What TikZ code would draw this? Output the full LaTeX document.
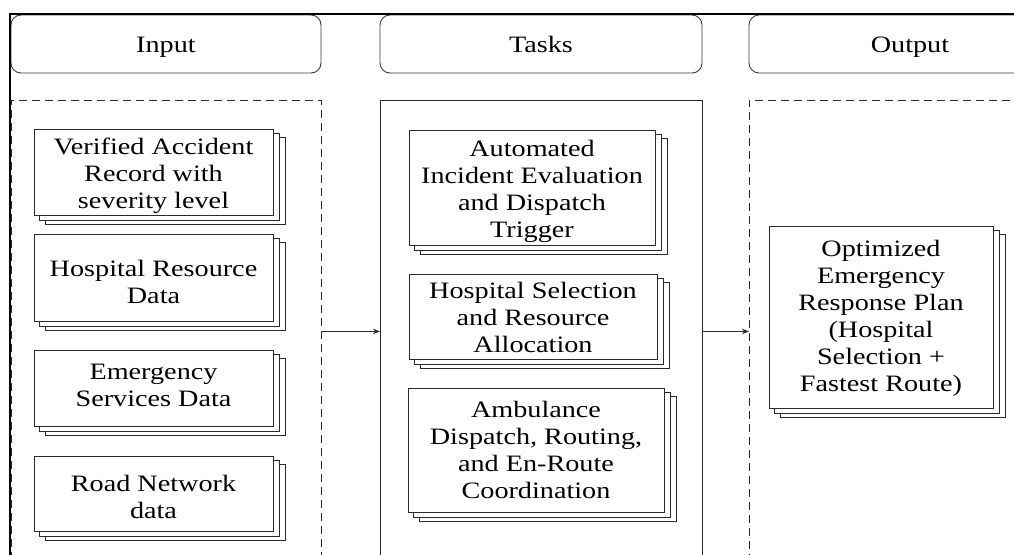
\documentclass[tikz,border=0pt]{standalone}
\usepackage{fontspec}
\setmainfont[FakeStretch=1.2]{Liberation Serif}
\usetikzlibrary{arrows.meta,backgrounds}
\definecolor{boxline}{HTML}{2A2A2A}
\definecolor{hdrline}{HTML}{3C3C3C}
\newcommand{\boxfont}{\fontsize{23.5}{27}\selectfont}
\newcommand{\dtext}[2][4pt]{\raisebox{-#1}[\height][\depth]{\begin{tabular}{@{}c@{}}#2\end{tabular}}}
\tikzset{
  hdr/.style={draw=hdrline, line width=0.9pt, rounded corners=10pt, minimum height=58pt, inner sep=0pt, text height=21pt, text depth=5pt, font=\boxfont},
  region/.style={draw=boxline, line width=0.9pt, inner sep=0pt, minimum height=462pt},
  dashedregion/.style={region, dash pattern=on 8pt off 5pt},
  doc/.style={draw=boxline, fill=white, line width=0.85pt, inner sep=0pt, align=center, font=\boxfont},
  layer/.style={draw=boxline, fill=white, line width=0.85pt},
  arr/.style={draw=boxline, line width=0.9pt, -{Stealth[length=7pt,width=5.5pt]}},
  frameline/.style={draw=black, line width=2pt}
}
\begin{document}
\begin{tikzpicture}[x=1pt,y=-1pt]
\useasboundingbox (0,0) rectangle (1014,554);
\clip (0,0) rectangle (1014,554);

% headers
\node[hdr, minimum width=310pt] (hin) at (166,44) {Input};
\node[hdr, minimum width=322pt] (htask) at (541,44) {Tasks};
\node[hdr, minimum width=322pt] (hout) at (910,44) {Output};

% regions
\node[dashedregion, minimum width=310pt, anchor=north west] (inreg) at (11,100) {};
\node[region, minimum width=322pt, anchor=north west] (taskreg) at (380,100) {};
\node[dashedregion, minimum width=322pt, anchor=north west] (outreg) at (749,100) {};

% frame
\draw[frameline] (10,570) -- (10,14) -- (1020,14);

% input documents
\node[doc, minimum width=239pt, minimum height=86pt] (in1) at (153.5,172) {\dtext[4pt]{Verified Accident\\Record with\\severity level}};
\node[doc, minimum width=239pt, minimum height=87pt] (in2) at (153.5,277.5) {\dtext[7pt]{Hospital Resource\\Data}};
\node[doc, minimum width=239pt, minimum height=76pt] (in3) at (153.5,388) {\dtext[0pt]{Emergency\\Services Data}};
\node[doc, minimum width=239pt, minimum height=75pt] (in4) at (153.5,493.5) {\dtext[6pt]{Road Network\\data}};

% task documents
\node[doc, minimum width=246pt, minimum height=115pt] (t1) at (532,187.5) {\dtext[4pt]{Automated\\Incident Evaluation\\and Dispatch\\Trigger}};
\node[doc, minimum width=248pt, minimum height=85pt] (t2) at (533,316.5) {\dtext[4pt]{Hospital Selection\\and Resource\\Allocation}};
\node[doc, minimum width=256pt, minimum height=124pt] (t3) at (536,450) {\dtext[3pt]{Ambulance\\Dispatch, Routing,\\and En-Route\\Coordination}};

% output document
\node[doc, minimum width=224pt, minimum height=182pt] (o1) at (881,317) {\dtext[2pt]{Optimized\\Emergency\\Response Plan\\(Hospital\\Selection +\\Fastest Route)}};

% stacked layers behind each document
\begin{scope}[on background layer]
\foreach \n in {in1,in2,in3,in4,t1,t2,t3,o1}{
  \draw[layer] ([shift={(12,9)}]\n.north west) rectangle ([shift={(12,9)}]\n.south east);
  \draw[layer] ([shift={(6,4.5)}]\n.north west) rectangle ([shift={(6,4.5)}]\n.south east);
}
\end{scope}

% connectors
\draw[arr] (inreg) -- (taskreg);
\draw[arr] (taskreg) -- (outreg);
\end{tikzpicture}
\end{document}
